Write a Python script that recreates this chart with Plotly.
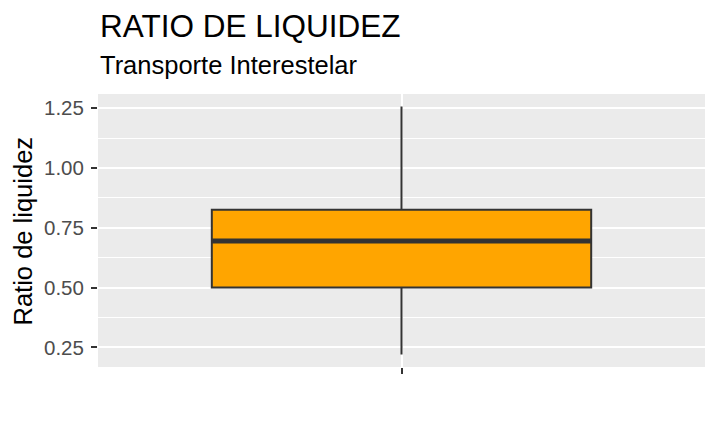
import plotly.graph_objects as go

# Data
categories = ["Transporte Interestelar"]
q1 = [0.50]
median = [0.695]
q3 = [0.825]
lower_fence = [0.22]
upper_fence = [1.257]

y_ticks = [0.25, 0.50, 0.75, 1.00, 1.25]
y_tick_labels = ["0.25", "0.50", "0.75", "1.00", "1.25"]
y_minor = [0.375, 0.625, 0.875, 1.125]

x_pos = [i + 1 for i in range(len(categories))]
box_width = 0.75

FONT = "Liberation Sans, Arial, sans-serif"

fig = go.Figure()
fig.add_trace(go.Box(
    x=x_pos, q1=q1, median=median, q3=q3,
    lowerfence=lower_fence, upperfence=upper_fence,
    width=box_width, whiskerwidth=0, boxpoints=False,
    fillcolor="#FFA500", line=dict(color="#333333", width=2),
    hoverinfo="skip", showlegend=False,
))
# thicker median line (ggplot draws median at double width)
for xp, m in zip(x_pos, median):
    fig.add_trace(go.Scatter(
        x=[xp - box_width / 2, xp + box_width / 2], y=[m, m],
        mode="lines", line=dict(color="#333333", width=5),
        hoverinfo="skip", showlegend=False,
    ))

fig.update_layout(
    width=719, height=444,
    margin=dict(l=98, r=14, t=94, b=77),
    paper_bgcolor="white", plot_bgcolor="#EBEBEB",
    font=dict(family=FONT, color="black"),
    xaxis=dict(
        range=[0.4, 1.6], tickvals=x_pos, ticktext=[""] * len(x_pos),
        ticks="outside", ticklen=6, tickwidth=2, tickcolor="#333333",
        showgrid=True, gridcolor="white", gridwidth=2,
        zeroline=False, showline=False, fixedrange=True,
    ),
    yaxis=dict(
        range=[0.168, 1.309], tickvals=y_ticks, ticktext=y_tick_labels,
        ticks="outside", ticklen=6, tickwidth=2, tickcolor="#333333",
        tickfont=dict(size=20.5, color="#4D4D4D", family=FONT),
        ticklabelstandoff=3,
        showgrid=True, gridcolor="white", gridwidth=2,
        minor=dict(tickvals=y_minor, showgrid=True, gridcolor="white", gridwidth=1, ticks=""),
        zeroline=False, showline=False, fixedrange=True,
    ),
    annotations=[
        dict(text="RATIO DE LIQUIDEZ", xref="paper", yref="paper", x=0, y=1.2476,
             xanchor="left", yanchor="middle", showarrow=False,
             font=dict(size=31.5, color="black", family=FONT)),
        dict(text="Transporte Interestelar", xref="paper", yref="paper", x=0, y=1.1044,
             xanchor="left", yanchor="middle", showarrow=False,
             font=dict(size=25.5, color="black", family=FONT)),
        dict(text="Ratio de liquidez", xref="paper", yref="paper", x=-0.1236, y=0.5,
             xanchor="center", yanchor="middle", textangle=-90, showarrow=False,
             font=dict(size=25.5, color="black", family=FONT)),
    ],
)

fig.write_html("out.html")
